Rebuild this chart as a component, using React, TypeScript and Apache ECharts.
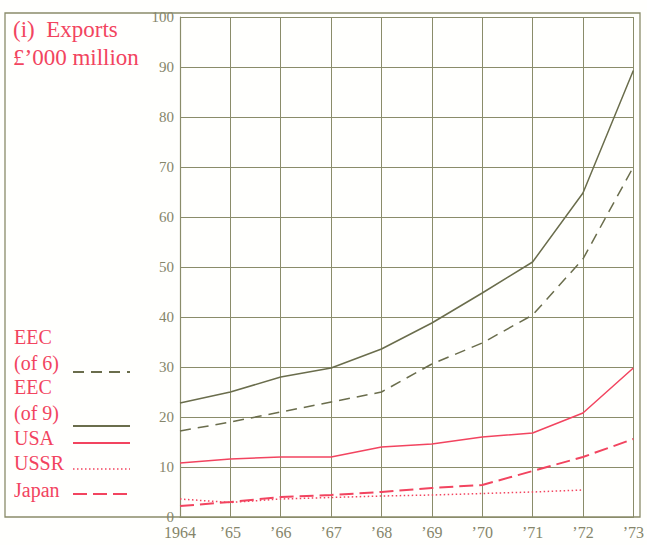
import React, { useEffect, useRef } from "react";
import * as echarts from "echarts";

const years = ["1964", "’65", "’66", "’67", "’68", "’69", "’70", "’71", "’72", "’73"];
const yTicks = [0, 10, 20, 30, 40, 50, 60, 70, 80, 90, 100];
const eec6 = [17.2, 19, 21, 23, 25, 30.6, 34.8, 40.4, 51.6, 70];
const eec9 = [22.8, 25, 28, 29.8, 33.6, 38.8, 44.8, 51, 64.8, 89.3];
const usa = [10.8, 11.6, 12, 12, 14, 14.6, 16, 16.8, 20.8, 29.8];
const ussr = [3.6, 2.9, 3.6, 3.9, 4.2, 4.4, 4.7, 5, 5.4, null];
const japan = [2.2, 3, 4, 4.4, 5, 5.8, 6.4, 9.2, 12, 15.6];

const OLIVE = "#6a6d4c";
const GRID = "#8a8c6a";
const RED = "#f2445f";
const TICK = "#85856a";
const FONT = "'Liberation Serif', 'DejaVu Serif', serif";

export default function App() {
  const ref = useRef<HTMLDivElement>(null);
  useEffect(() => {
    const chart = echarts.init(ref.current!, null, { renderer: "svg" });
    const lineSeries = (name: string, data: any[], color: string, type: any, width = 1.5) => ({
      name,
      type: "line",
      data,
      symbol: "none",
      connectNulls: false,
      lineStyle: { color, width, type },
      silent: true,
    });
    const legendText = (text: string, y: number) => ({
      type: "text",
      left: 14,
      top: y,
      style: { text, fill: RED, font: `20px ${FONT}` },
    });
    const legendLine = (y: number, color: string, dash: any, width = 1.8) => ({
      type: "line",
      shape: { x1: 73, y1: y, x2: 130, y2: y },
      style: { stroke: color, lineWidth: width, lineDash: dash },
    });
    chart.setOption({
      animation: false,
      backgroundColor: "#fffffd",
      grid: { left: 180, right: 7, top: 17, bottom: 28 },
      xAxis: {
        type: "category",
        data: years,
        boundaryGap: false,
        axisLine: { lineStyle: { color: GRID, width: 1.2 } },
        axisTick: { show: false },
        axisLabel: { color: TICK, fontFamily: FONT, fontSize: 16, margin: 7 },
        splitLine: { show: true, lineStyle: { color: GRID, width: 1 } },
      },
      yAxis: {
        type: "value",
        min: 0,
        max: 100,
        interval: 10,
        axisLine: { show: true, lineStyle: { color: GRID, width: 1.2 } },
        axisTick: { show: false },
        axisLabel: {
          color: TICK,
          fontFamily: FONT,
          fontSize: 15,
          margin: 6,
          formatter: (v: number) => (yTicks.includes(v) ? String(v) : ""),
        },
        splitLine: { show: true, lineStyle: { color: GRID, width: 1 } },
      },
      series: [
        lineSeries("EEC (of 6)", eec6, OLIVE, [11, 7]),
        lineSeries("EEC (of 9)", eec9, OLIVE, "solid"),
        lineSeries("USA", usa, RED, "solid"),
        lineSeries("USSR", ussr, RED, [1.5, 2.5], 1.5),
        lineSeries("Japan", japan, RED, [14, 6], 2),
      ],
      graphic: [
        {
          type: "rect",
          shape: { x: 5, y: 13, width: 635, height: 504 },
          style: { fill: "none", stroke: GRID, lineWidth: 1.3 },
          silent: true,
        },
        { type: "text", left: 13, top: 18, style: { text: "(i)  Exports", fill: RED, font: `23px ${FONT}` } },
        { type: "text", left: 13, top: 46, style: { text: "£’000 million", fill: RED, font: `23px ${FONT}` } },
        legendText("EEC", 327),
        legendText("(of 6)", 353),
        legendText("EEC", 377),
        legendText("(of 9)", 403),
        legendText("USA", 428),
        legendText("USSR", 453),
        legendText("Japan", 480),
        legendLine(372, OLIVE, [11, 7]),
        legendLine(426, OLIVE, null),
        legendLine(443, RED, null),
        legendLine(469, RED, [1.5, 2.5], 1.5),
        legendLine(494, RED, [14, 6], 2.2),
      ],
    });
    return () => chart.dispose();
  }, []);
  return <div ref={ref} style={{ width: 647, height: 545, position: "absolute", left: 0, top: 0 }} />;
}
